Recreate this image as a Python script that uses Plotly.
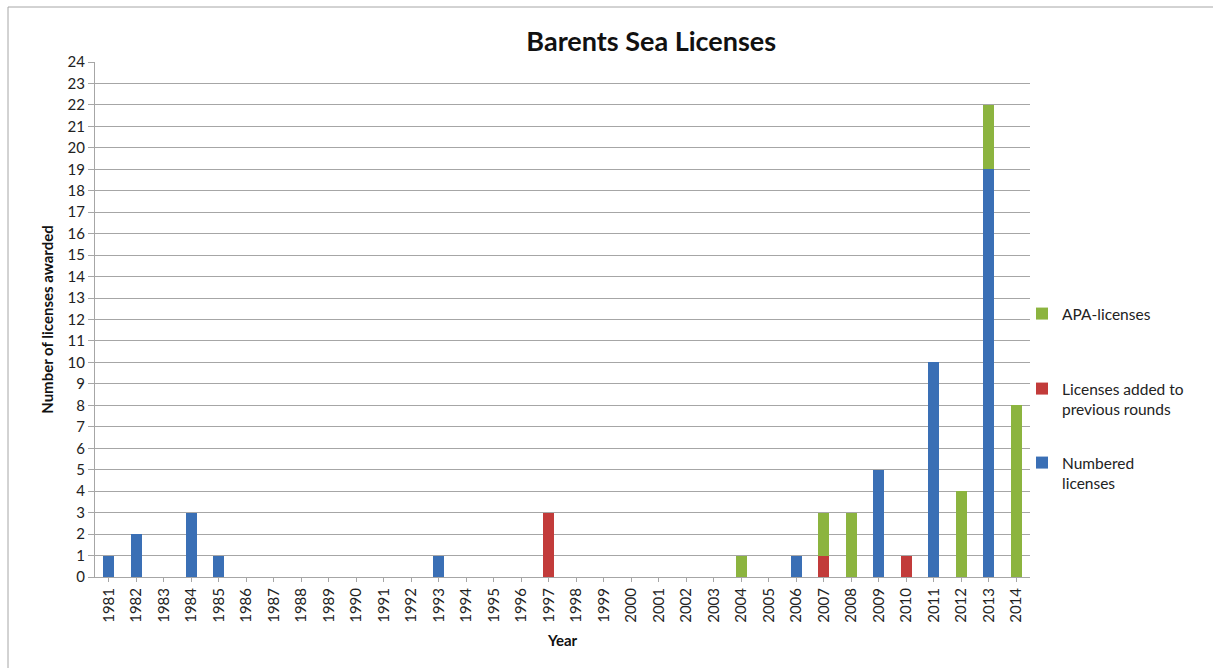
import plotly.graph_objects as go

years = [str(y) for y in range(1981, 2015)]
numbered = {1981: 1, 1982: 2, 1984: 3, 1985: 1, 1993: 1, 2006: 1, 2009: 5, 2011: 10, 2013: 19}
added = {1997: 3, 2007: 1, 2010: 1}
apa = {2004: 1, 2007: 2, 2008: 3, 2012: 4, 2013: 3, 2014: 8}

numbered_vals = [numbered.get(int(y), 0) for y in years]
added_vals = [added.get(int(y), 0) for y in years]
apa_vals = [apa.get(int(y), 0) for y in years]

FONT = "Lato"
L, R, T, B = 95, 183, 62, 91
W, H = 1213, 668
PW, PH = W - L - R, H - T - B

def px(x):
    return (x - L) / PW

def py(y):
    return (H - B - y) / PH

fig = go.Figure()
fig.add_trace(go.Bar(x=years, y=numbered_vals, name="Numbered<br>licenses",
                     marker=dict(color="#3a6fb5", line=dict(width=0)), legend="legend3"))
fig.add_trace(go.Bar(x=years, y=added_vals, name="Licenses added to<br>previous rounds",
                     marker=dict(color="#c23b3a", line=dict(width=0)), legend="legend2"))
fig.add_trace(go.Bar(x=years, y=apa_vals, name="APA-licenses",
                     marker=dict(color="#8cb43f", line=dict(width=0)), legend="legend"))

leg_common = dict(font=dict(family=FONT, size=15.5, color="#222"), bgcolor="rgba(0,0,0,0)",
                  xanchor="left", yanchor="middle", valign="top", itemwidth=30, visible=True)

fig.update_layout(
    width=W, height=H, showlegend=True,
    margin=dict(l=L, r=R, t=T, b=B, autoexpand=False),
    paper_bgcolor="white", plot_bgcolor="white",
    barmode="stack", bargap=0.6,
    title=dict(text="<b>Barents Sea Licenses</b>", x=px(597), xanchor="center",
               y=1 - 42 / H, yanchor="middle",
               font=dict(family=FONT, size=27, color="#111")),
    font=dict(family=FONT, size=15, color="#222"),
    xaxis=dict(type="category", tickangle=-90, showgrid=False, showline=True,
               linecolor="#a6a6a6", linewidth=1, ticks="outside", ticklen=4,
               tickcolor="#a6a6a6", tickfont=dict(family=FONT, size=15, color="#222"),
               title=dict(text="<b>Year</b>", font=dict(family=FONT, size=15, color="#111"), standoff=13)),
    yaxis=dict(range=[0, 24], dtick=1, showgrid=True, gridcolor="#a6a6a6", gridwidth=1,
               showline=True, linecolor="#a6a6a6", linewidth=1, ticks="outside", ticklen=6,
               tickcolor="#a6a6a6", zeroline=False,
               tickfont=dict(family=FONT, size=15, color="#222"),
               title=dict(text="<b>Number of licenses awarded</b>",
                          font=dict(family=FONT, size=15, color="#111"), standoff=10)),
    legend=dict(x=px(1022), y=py(314), **leg_common),
    legend2=dict(x=px(1022), y=py(399), **leg_common),
    legend3=dict(x=px(1022), y=py(473), **leg_common),
    shapes=[dict(type="rect", xref="paper", yref="paper",
                 x0=px(8), x1=px(1260), y0=py(720), y1=py(7),
                 line=dict(color="#a6a6a6", width=1), fillcolor="rgba(0,0,0,0)", layer="below")],
)

fig.write_html("out.html", config={"displayModeBar": False},
               post_script="document.body.style.margin='0';document.body.style.padding='0';")
